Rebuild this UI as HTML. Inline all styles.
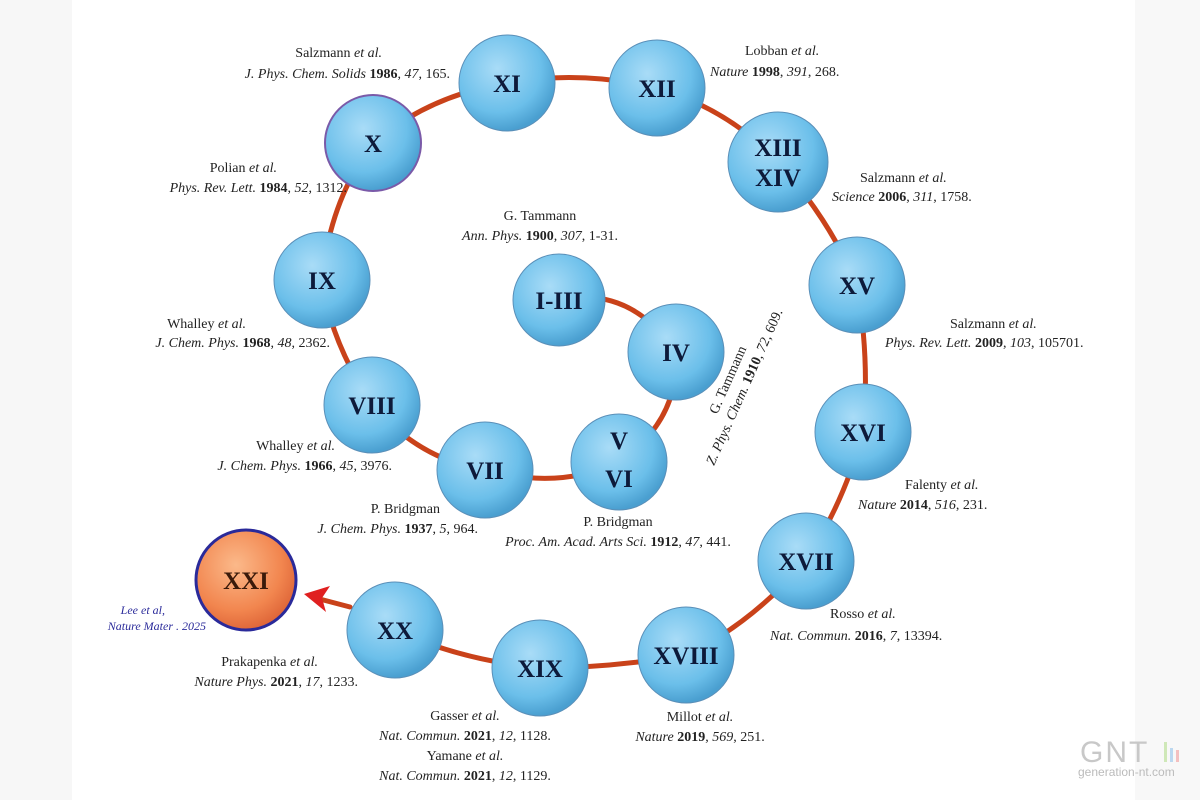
<!DOCTYPE html>
<html><head><meta charset="utf-8"><style>
body{margin:0;width:1200px;height:800px;overflow:hidden;background:#fff}
svg{display:block}
text{font-family:"Liberation Serif",serif;font-size:14px;fill:#222}
.n{font-size:25px;font-weight:bold;fill:#0d1a3a;text-anchor:middle}
</style></head><body>
<svg width="1200" height="800" viewBox="0 0 1200 800">
<defs>
<radialGradient id="b" cx="40%" cy="35%" r="65%"><stop offset="0" stop-color="#a9dcf7"/><stop offset="0.7" stop-color="#6bbfea"/><stop offset="1" stop-color="#4a9fd0"/></radialGradient>
<radialGradient id="o" cx="40%" cy="35%" r="65%"><stop offset="0" stop-color="#fbb98a"/><stop offset="0.7" stop-color="#f2864f"/><stop offset="1" stop-color="#e0683a"/></radialGradient>
</defs>
<rect x="0" y="0" width="72" height="800" fill="#f7f7f7"/>
<rect x="1135" y="0" width="65" height="800" fill="#f8f8f8"/>
<g fill="none" stroke="#c9421a" stroke-width="5" stroke-linecap="round">
<path d="M559,300 Q630,285 676,352 Q680,420 619,462 Q560,490 485,470 Q420,460 372,405 Q330,340 322,280 Q330,200 373,143 Q430,95 507,83 Q580,70 657,88 Q730,110 778,162 Q830,220 857,285 Q870,360 863,432 Q845,500 806,561 Q750,625 686,655 Q610,668 540,668 Q460,660 395,630"/>
<path d="M350,607 L312,597"/>
</g>
<path d="M304,594 L330,586 L322,598 L326,612 Z" fill="#e02020"/>
<g stroke="#5a8fb8" stroke-width="1">
<circle cx="559" cy="300" r="46" fill="url(#b)"/>
<circle cx="676" cy="352" r="48" fill="url(#b)"/>
<circle cx="619" cy="462" r="48" fill="url(#b)"/>
<circle cx="485" cy="470" r="48" fill="url(#b)"/>
<circle cx="372" cy="405" r="48" fill="url(#b)"/>
<circle cx="322" cy="280" r="48" fill="url(#b)"/>
<circle cx="373" cy="143" r="48" fill="url(#b)" stroke="#7a5aa8" stroke-width="2"/>
<circle cx="507" cy="83" r="48" fill="url(#b)"/>
<circle cx="657" cy="88" r="48" fill="url(#b)"/>
<circle cx="778" cy="162" r="50" fill="url(#b)"/>
<circle cx="857" cy="285" r="48" fill="url(#b)"/>
<circle cx="863" cy="432" r="48" fill="url(#b)"/>
<circle cx="806" cy="561" r="48" fill="url(#b)"/>
<circle cx="686" cy="655" r="48" fill="url(#b)"/>
<circle cx="540" cy="668" r="48" fill="url(#b)"/>
<circle cx="395" cy="630" r="48" fill="url(#b)"/>
</g>
<circle cx="246" cy="580" r="50" fill="url(#o)" stroke="#2a2a9a" stroke-width="3"/>
<text class="n" x="559" y="309">I-III</text>
<text class="n" x="676" y="361">IV</text>
<text class="n" x="619" y="449">V</text><text class="n" x="619" y="487">VI</text>
<text class="n" x="485" y="479">VII</text>
<text class="n" x="372" y="414">VIII</text>
<text class="n" x="322" y="289">IX</text>
<text class="n" x="373" y="152">X</text>
<text class="n" x="507" y="92">XI</text>
<text class="n" x="657" y="97">XII</text>
<text class="n" x="778" y="156">XIII</text><text class="n" x="778" y="186">XIV</text>
<text class="n" x="857" y="294">XV</text>
<text class="n" x="863" y="441">XVI</text>
<text class="n" x="806" y="570">XVII</text>
<text class="n" x="686" y="664">XVIII</text>
<text class="n" x="540" y="677">XIX</text>
<text class="n" x="395" y="639">XX</text>
<text class="n" x="246" y="589" style="fill:#3a1a0a">XXI</text>
<g text-anchor="end">
<text x="382" y="57">Salzmann <tspan font-style="italic">et al.</tspan></text>
<text x="450" y="78"><tspan font-style="italic">J. Phys. Chem. Solids</tspan> <tspan font-weight="bold">1986</tspan>, <tspan font-style="italic">47</tspan>, 165.</text>
<text x="277" y="172">Polian <tspan font-style="italic">et al.</tspan></text>
<text x="347" y="192"><tspan font-style="italic">Phys. Rev. Lett.</tspan> <tspan font-weight="bold">1984</tspan>, <tspan font-style="italic">52</tspan>, 1312.</text>
<text x="246" y="328">Whalley <tspan font-style="italic">et al.</tspan></text>
<text x="330" y="347"><tspan font-style="italic">J. Chem. Phys.</tspan> <tspan font-weight="bold">1968</tspan>, <tspan font-style="italic">48</tspan>, 2362.</text>
<text x="335" y="450">Whalley <tspan font-style="italic">et al.</tspan></text>
<text x="392" y="470"><tspan font-style="italic">J. Chem. Phys.</tspan> <tspan font-weight="bold">1966</tspan>, <tspan font-style="italic">45</tspan>, 3976.</text>
<text x="440" y="513">P. Bridgman</text>
<text x="478" y="533"><tspan font-style="italic">J. Chem. Phys.</tspan> <tspan font-weight="bold">1937</tspan>, <tspan font-style="italic">5</tspan>, 964.</text>
<text x="165" y="614" style="fill:#2a2a9a;font-size:12px;font-style:italic">Lee et al,</text>
<text x="206" y="630" style="fill:#2a2a9a;font-size:12px;font-style:italic">Nature Mater . 2025</text>
<text x="318" y="666">Prakapenka <tspan font-style="italic">et al.</tspan></text>
<text x="358" y="686"><tspan font-style="italic">Nature Phys.</tspan> <tspan font-weight="bold">2021</tspan>, <tspan font-style="italic">17</tspan>, 1233.</text>
</g>
<g text-anchor="middle">
<text x="540" y="220">G. Tammann</text>
<text x="540" y="240"><tspan font-style="italic">Ann. Phys.</tspan> <tspan font-weight="bold">1900</tspan>, <tspan font-style="italic">307</tspan>, 1-31.</text>
<text x="618" y="526">P. Bridgman</text>
<text x="618" y="546"><tspan font-style="italic">Proc. Am. Acad. Arts Sci.</tspan> <tspan font-weight="bold">1912</tspan>, <tspan font-style="italic">47</tspan>, 441.</text>
<text x="465" y="720">Gasser <tspan font-style="italic">et al.</tspan></text>
<text x="465" y="740"><tspan font-style="italic">Nat. Commun.</tspan> <tspan font-weight="bold">2021</tspan>, <tspan font-style="italic">12</tspan>, 1128.</text>
<text x="465" y="760">Yamane <tspan font-style="italic">et al.</tspan></text>
<text x="465" y="780"><tspan font-style="italic">Nat. Commun.</tspan> <tspan font-weight="bold">2021</tspan>, <tspan font-style="italic">12</tspan>, 1129.</text>
<text x="700" y="721">Millot <tspan font-style="italic">et al.</tspan></text>
<text x="700" y="741"><tspan font-style="italic">Nature</tspan> <tspan font-weight="bold">2019</tspan>, <tspan font-style="italic">569</tspan>, 251.</text>
</g>
<g>
<text x="745" y="55">Lobban <tspan font-style="italic">et al.</tspan></text>
<text x="710" y="76"><tspan font-style="italic">Nature</tspan> <tspan font-weight="bold">1998</tspan>, <tspan font-style="italic">391</tspan>, 268.</text>
<text x="860" y="182">Salzmann <tspan font-style="italic">et al.</tspan></text>
<text x="832" y="201"><tspan font-style="italic">Science</tspan> <tspan font-weight="bold">2006</tspan>, <tspan font-style="italic">311</tspan>, 1758.</text>
<text x="950" y="328">Salzmann <tspan font-style="italic">et al.</tspan></text>
<text x="885" y="347"><tspan font-style="italic">Phys. Rev. Lett.</tspan> <tspan font-weight="bold">2009</tspan>, <tspan font-style="italic">103</tspan>, 105701.</text>
<text x="905" y="489">Falenty <tspan font-style="italic">et al.</tspan></text>
<text x="858" y="509"><tspan font-style="italic">Nature</tspan> <tspan font-weight="bold">2014</tspan>, <tspan font-style="italic">516</tspan>, 231.</text>
<text x="830" y="618">Rosso <tspan font-style="italic">et al.</tspan></text>
<text x="770" y="640"><tspan font-style="italic">Nat. Commun.</tspan> <tspan font-weight="bold">2016</tspan>, <tspan font-style="italic">7</tspan>, 13394.</text>
</g>
<g transform="translate(714,466) rotate(-66)">
<text x="48" y="-18">G. Tammann</text>
<text x="0" y="0"><tspan font-style="italic">Z. Phys. Chem.</tspan> <tspan font-weight="bold">1910</tspan>, <tspan font-style="italic">72</tspan>, 609.</text>
</g>
<text x="1080" y="762" style="font-family:'Liberation Sans',sans-serif;font-size:30px;fill:#c8c8c8;letter-spacing:2px">GNT</text>
<rect x="1164" y="742" width="3" height="20" fill="#cfe8b8"/><rect x="1170" y="748" width="3" height="14" fill="#bcd8f0"/><rect x="1176" y="750" width="3" height="12" fill="#f4c0c0"/>
<text x="1078" y="776" style="font-family:'Liberation Sans',sans-serif;font-size:12px;fill:#bbb">generation-nt.com</text>
</svg>
</body></html>
